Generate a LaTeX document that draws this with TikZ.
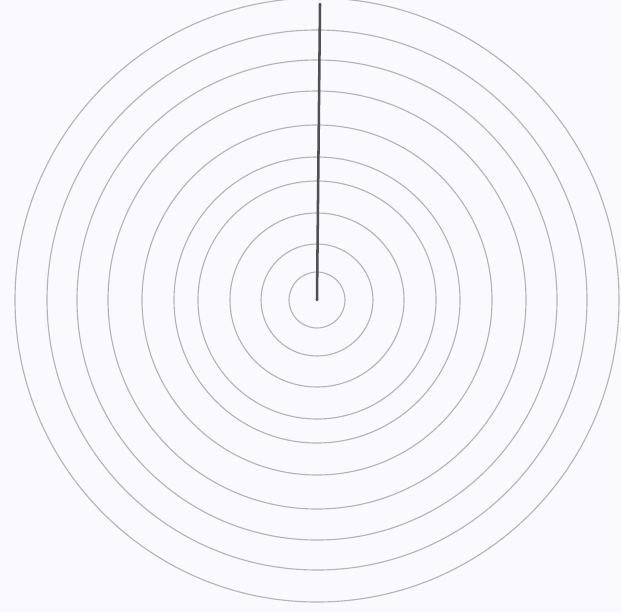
\documentclass[tikz,border=0pt]{standalone}
\usepackage{tikz}
\definecolor{paperwhite}{HTML}{FAF9FD}
\definecolor{ringgray}{HTML}{B4B4B8}
\definecolor{pencil}{HTML}{505054}
\tikzset{
  ring/.style={draw=ringgray, line width=1.6pt},
  needle/.style={draw=pencil, line width=3.6pt, line cap=round}
}
\begin{document}
\begin{tikzpicture}[x=0.05cm, y=-0.05cm]
  % page with the reference margins
  \fill[paperwhite] (0,0) rectangle (621,612);
  \useasboundingbox (0,0) rectangle (621,612);
  \coordinate (centre) at (317,300);
  \coordinate (tip) at (320,4);
  % concentric rings
  \foreach \r in {28,56,87,119,143,175,209,240,270,302}
    \draw[ring] (centre) circle[radius=\r];
  % line from the centre to the top
  \draw[needle] (centre) -- (tip);
\end{tikzpicture}
\end{document}
